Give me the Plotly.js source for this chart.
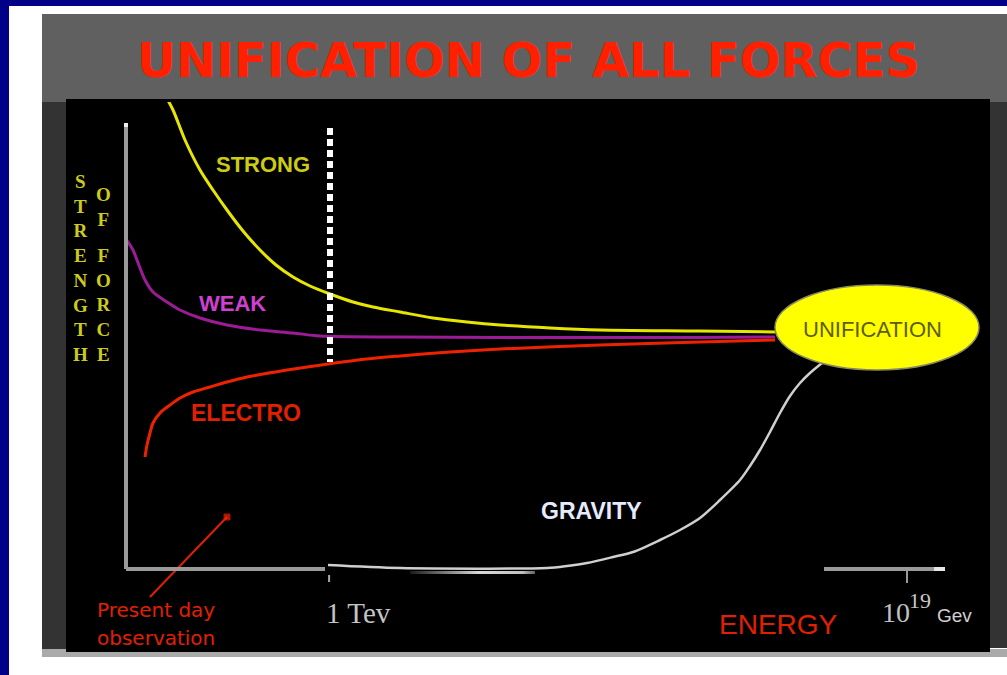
<!DOCTYPE html>
<html>
<head>
<meta charset="utf-8">
<script src="https://cdn.plot.ly/plotly-3.0.1.min.js"></script>
<style>
  html, body { margin: 0; padding: 0; background: #ffffff; }
  #chart { width: 1007px; height: 675px; }
</style>
</head>
<body>
<div id="chart"></div>
<script>
// ---- Data: x = log10(energy / GeV), y = relative strength of force ----
const strongX  = [-1.504, -1.283, -0.952, -0.537, -0.178, 0.209, 0.651, 1.121, 1.563, 2.033, 2.503, 3.055, 3.691, 4.244, 4.990, 5.902, 6.841, 7.753, 9.135, 10.516, 13.280, 15.352];
const strongY  = [9.48, 9.18, 8.58, 7.98, 7.58, 7.18, 6.76, 6.38, 6.08, 5.84, 5.66, 5.50, 5.34, 5.24, 5.14, 5.02, 4.94, 4.88, 4.82, 4.78, 4.76, 4.74];

const weakX    = [-2.610, -2.527, -2.389, -2.195, -2.057, -1.836, -1.449, -1.090, -0.537, 0.209, 1.121, 2.033, 2.779, 4.990, 7.753, 10.516, 13.280, 15.352];
const weakY    = [6.62, 6.54, 6.38, 6.02, 5.78, 5.54, 5.34, 5.18, 5.02, 4.88, 4.78, 4.72, 4.66, 4.64, 4.63, 4.63, 4.63, 4.64];

const electroX = [-2.057, -2.002, -1.919, -1.836, -1.642, -1.366, -1.090, -0.731, -0.261, 0.209, 0.762, 1.867, 3.000, 4.078, 4.990, 6.371, 7.753, 10.516, 13.280, 15.352];
const electroY = [2.24, 2.48, 2.72, 2.92, 3.12, 3.28, 3.42, 3.54, 3.64, 3.74, 3.84, 3.98, 4.10, 4.20, 4.26, 4.34, 4.40, 4.48, 4.54, 4.58];

const gravityX = [3.000, 4.990, 9.052, 9.604, 10.157, 10.876, 11.428, 12.174, 12.727, 13.280, 13.832, 14.385, 14.661, 14.938, 15.214, 15.490, 15.767, 16.043, 16.319, 16.651];
const gravityY = [0.08, 0.02, 0.02, 0.06, 0.12, 0.24, 0.34, 0.58, 0.78, 1.02, 1.38, 1.78, 2.06, 2.38, 2.74, 3.12, 3.46, 3.72, 3.92, 4.12];

// faint shadow band under the gravity line
const shadowX  = [5.266, 8.720, 8.720, 5.266, 5.266];
const shadowY  = [-0.04, -0.04, -0.10, -0.10, -0.04];

// "present day observation" pointer
const pointerX = [-1.919, 0.209];
const pointerY = [-0.56, 1.04];

// key energies (log10 GeV)
const teraScale   = 3;    // 1 TeV
const planckScale = 19;   // 10^19 GeV

// labels
const titleText   = "UNIFICATION OF ALL FORCES";
const yLabelCol1  = ["S","T","R","E","N","G","T","H"];
const yLabelCol2a = ["O","F"];
const yLabelCol2b = ["F","O","R","C","E"];

// ---- Layout helpers (pixel -> paper) ----
const L = 66, R = 990, T = 102, B = 652;
const PX = p => (p - L) / (R - L);
const PY = p => (B - p) / (B - T);

function rectPx(x0, y0, x1, y1, color) {
  return { type: 'rect', xref: 'paper', yref: 'paper', layer: 'below',
           x0: PX(x0), x1: PX(x1), y0: PY(y1), y1: PY(y0),
           fillcolor: color, line: { width: 0 } };
}
function textPx(x, y, text, font, xanchor) {
  return { xref: 'paper', yref: 'paper', x: PX(x), y: PY(y), text: text,
           showarrow: false, xanchor: xanchor || 'left', yanchor: 'middle',
           font: font, borderpad: 0 };
}

const traces = [
  { x: shadowX, y: shadowY, mode: 'lines', fill: 'toself', line: { width: 0 },
    fillcolor: '#777777',
    fillgradient: { type: 'horizontal',
      colorscale: [[0, '#1a1a1a'], [0.55, '#d8d8d8'], [0.9, '#c0c0c0'], [1, '#606060']] },
    hoverinfo: 'skip' },
  { x: gravityX, y: gravityY, mode: 'lines', line: { color: '#cfcfcf', width: 2.5, shape: 'spline', smoothing: 0.8 }, hoverinfo: 'skip' },
  { x: strongX, y: strongY, mode: 'lines', line: { color: '#e6e600', width: 3, shape: 'spline', smoothing: 0.8 }, hoverinfo: 'skip' },
  { x: weakX, y: weakY, mode: 'lines', line: { color: '#9c1c98', width: 3, shape: 'spline', smoothing: 0.8 }, hoverinfo: 'skip' },
  { x: electroX, y: electroY, mode: 'lines', line: { color: '#ee2200', width: 3, shape: 'spline', smoothing: 0.8 }, hoverinfo: 'skip' },
  { x: pointerX, y: pointerY, mode: 'lines+markers', line: { color: '#e02000', width: 2 },
    marker: { symbol: 'square', size: [0, 6], color: '#ff2200' }, hoverinfo: 'skip' }
];

const axisGray = '#9a9a9a';
const shapes = [
  // page frame
  rectPx(0, 0, 9, 675, '#000088'),
  rectPx(0, 0, 1007, 6, '#000088'),
  rectPx(42, 14, 1007, 102, '#606060'),
  rectPx(42, 102, 66, 649, '#333333'),
  rectPx(990, 102, 1007, 648, '#333333'),
  rectPx(42, 649, 1007, 657, '#aaaaaa'),
  rectPx(66, 99, 990, 652, '#000000'),
  rectPx(598, 99, 990, 102, '#000000'),
  // axes
  { type: 'line', xref: 'x', yref: 'y', x0: -2.582, x1: -2.582, y0: 0, y1: 8.92, line: { color: axisGray, width: 4 } },
  { type: 'line', xref: 'x', yref: 'y', x0: -2.582, x1: -2.582, y0: 8.84, y1: 8.92, line: { color: '#eeeeee', width: 4 } },
  { type: 'line', xref: 'x', yref: 'y', x0: -2.582, x1: 2.917, y0: 0, y1: 0, line: { color: axisGray, width: 4 } },
  { type: 'line', xref: 'x', yref: 'y', x0: teraScale + 0.03, x1: teraScale + 0.03, y0: -0.12, y1: -0.26, line: { color: '#aaaaaa', width: 2 } },
  { type: 'line', xref: 'x', yref: 'y', x0: 16.706, x1: 20.05, y0: 0, y1: 0, line: { color: axisGray, width: 4 } },
  { type: 'line', xref: 'x', yref: 'y', x0: 19.75, x1: 20.05, y0: 0, y1: 0, line: { color: '#e8e8e8', width: 4 } },
  { type: 'line', xref: 'x', yref: 'y', x0: planckScale, x1: planckScale, y0: 0, y1: -0.28, line: { color: axisGray, width: 2 } },
  // 1 TeV dotted marker
  { type: 'line', xref: 'x', yref: 'y', x0: teraScale + 0.055, x1: teraScale + 0.055, y0: 8.82, y1: 4.14,
    line: { color: '#ffffff', width: 6, dash: '7px,4px' } },
  // unification ellipse
  { type: 'circle', xref: 'x', yref: 'y', x0: 15.352, x1: 20.990, y0: 3.98, y1: 5.68,
    fillcolor: '#ffff00', line: { color: '#8a8a60', width: 1.5 } }
];

const sans = 'Liberation Sans, Arial, sans-serif';
const dvs  = 'DejaVu Sans, sans-serif';
const serif = 'Liberation Serif, Times New Roman, serif';
const yCol = '#cccc1e';

const annotations = [
  textPx(528.5, 60, titleText, { family: dvs, size: 48, color: '#ff2000', weight: 700 }, 'center'),
  textPx(80, 267.5, yLabelCol1.join('<br>'), { family: serif, size: 19, color: yCol, weight: 700 }, 'center'),
  textPx(103, 207.5, yLabelCol2a.join('<br>'), { family: serif, size: 19, color: yCol, weight: 700 }, 'center'),
  textPx(103, 304.5, yLabelCol2b.join('<br>'), { family: serif, size: 19, color: yCol, weight: 700 }, 'center'),
  textPx(215, 165, 'STRONG', { family: sans, size: 22, color: '#cccc14', weight: 700 }),
  textPx(198, 303.5, 'WEAK', { family: sans, size: 22, color: '#d040d0', weight: 700 }),
  textPx(190, 413, 'ELECTRO', { family: sans, size: 23, color: '#e02000', weight: 700 }),
  textPx(540, 511, 'GRAVITY', { family: sans, size: 23, color: '#e6ecff', weight: 700 }),
  textPx(872, 329.5, 'UNIFICATION', { family: sans, size: 22, color: '#5e5e00' }, 'center'),
  textPx(96, 610, 'Present day', { family: dvs, size: 20, color: '#e02000' }),
  textPx(96, 638, 'observation', { family: dvs, size: 20, color: '#e02000' }),
  textPx(325, 612.5, '1 Tev', { family: serif, size: 29, color: '#c4c4c4' }),
  textPx(718, 624, 'ENERGY', { family: sans, size: 28, color: '#e02000' }),
  textPx(881, 612.5, '10', { family: serif, size: 28, color: '#c0c0c0' }),
  textPx(908, 600.5, '19', { family: serif, size: 22, color: '#c8c8c8' }),
  textPx(936, 615, 'Gev', { family: sans, size: 19, color: '#d0d0d0' })
];

const layout = {
  width: 1007, height: 675,
  margin: { l: L, r: 1007 - R, t: T, b: 675 - B, pad: 0 },
  paper_bgcolor: '#ffffff',
  plot_bgcolor: 'rgba(0,0,0,0)',
  showlegend: false,
  xaxis: { range: [-4.2401, 21.2936], visible: false, fixedrange: true },
  yaxis: { range: [-1.66, 9.34], visible: false, fixedrange: true },
  shapes: shapes,
  annotations: annotations
};

Plotly.newPlot('chart', traces, layout, { staticPlot: true, displayModeBar: false });
</script>
</body>
</html>
